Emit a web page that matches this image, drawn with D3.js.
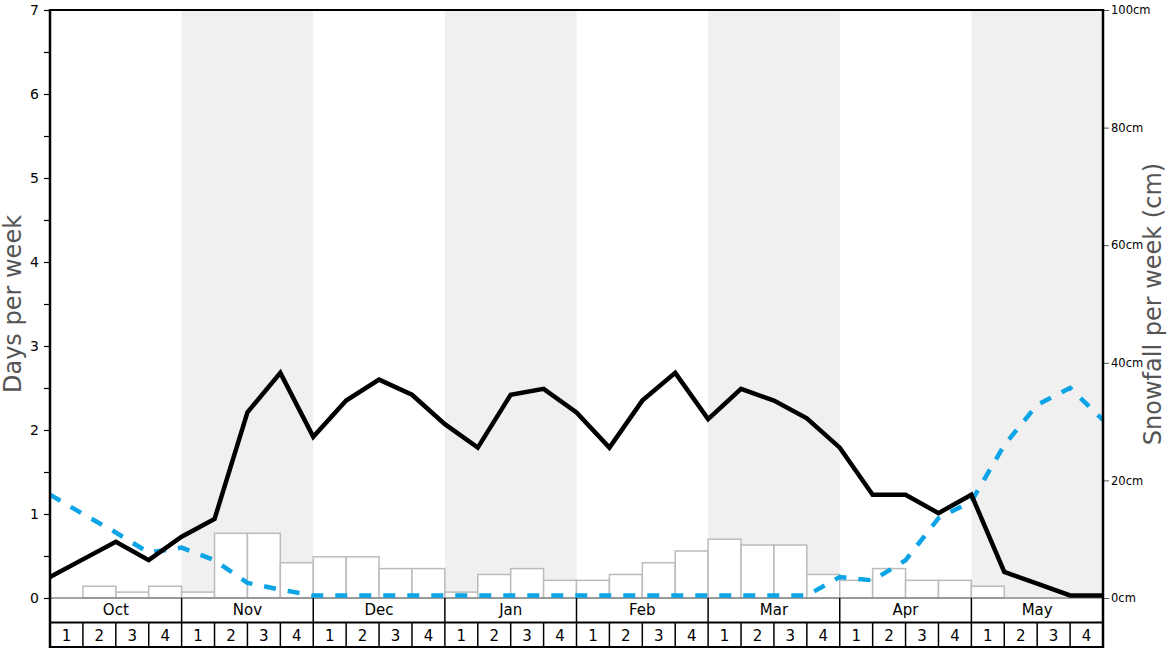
<!DOCTYPE html>
<html>
<head>
<meta charset="utf-8">
<script src="https://cdn.jsdelivr.net/npm/d3@7"></script>
<style>
  body { margin: 0; background: #fff; }
  svg { display: block; font-family: 'DejaVu Sans', sans-serif; }
</style>
</head>
<body>
<div id="chart"></div>
<script>
const months = ['Oct', 'Nov', 'Dec', 'Jan', 'Feb', 'Mar', 'Apr', 'May']
const weekLabels = ['1', '2', '3', '4']

// snowfall per week in cm, one per week (32 weeks)
const snowfallCm = [
  0, 2, 1, 2,
  1, 11, 11, 6,
  7, 7, 5, 5,
  1, 4, 5, 3,
  3, 4, 6, 8,
  10, 9, 9, 4,
  3, 5, 3, 3,
  2, 0, 0, 0
]

// days per week, sampled at week boundaries (33 points)
const snowDays = [
  0.25, 0.46, 0.67, 0.45,
  0.73, 0.94, 2.21, 2.68,
  1.92, 2.35, 2.6, 2.42,
  2.07, 1.79, 2.42, 2.49,
  2.21, 1.79, 2.35, 2.68,
  2.13, 2.49, 2.35, 2.14,
  1.79, 1.23, 1.23, 1.01,
  1.23, 0.31, 0.17, 0.03,
  0.03
]

const blueDays = [
  1.23, 1.0, 0.78, 0.54,
  0.6, 0.45, 0.18, 0.1,
  0.03, 0.03, 0.03, 0.03,
  0.03, 0.03, 0.03, 0.03,
  0.03, 0.03, 0.03, 0.03,
  0.03, 0.03, 0.03, 0.03,
  0.25, 0.21, 0.45, 0.95,
  1.15, 1.82, 2.3, 2.5,
  2.12
]

const W = 1168
const H = 648
const plotLeft = 50
const plotRight = 1103
const plotTop = 10
const base = 598

const svg = d3.select('#chart')
  .append('svg')
  .attr('width', W)
  .attr('height', H)

const x = d3.scaleLinear().domain([0, 32]).range([plotLeft, plotRight])
const yDays = d3.scaleLinear().domain([0, 7]).range([base, plotTop])
const yCm = d3.scaleLinear().domain([0, 100]).range([base, plotTop])

// shaded month bands (every other month)
svg.append('g')
  .selectAll('rect')
  .data(d3.range(1, months.length, 2))
  .enter()
  .append('rect')
  .attr('x', d => x(d * 4))
  .attr('y', plotTop)
  .attr('width', d => x(d * 4 + 4) - x(d * 4))
  .attr('height', base - plotTop)
  .attr('fill', '#f0f0f0')

// snowfall bars
svg.append('g')
  .selectAll('rect')
  .data(snowfallCm.map((v, i) => ({ v, i })).filter(d => d.v > 0))
  .enter()
  .append('rect')
  .attr('x', d => x(d.i))
  .attr('y', d => yCm(d.v))
  .attr('width', d => x(d.i + 1) - x(d.i))
  .attr('height', d => base - yCm(d.v))
  .attr('fill', '#fff')
  .attr('stroke', '#bbb')
  .attr('stroke-width', 1.5)

// baseline
svg.append('line')
  .attr('x1', plotLeft).attr('x2', plotRight)
  .attr('y1', base).attr('y2', base)
  .attr('stroke', '#888')
  .attr('stroke-width', 1.5)

// lines
const line = d3.line()
  .x((d, i) => x(i))
  .y(d => yDays(d))

svg.append('path')
  .datum(blueDays)
  .attr('d', line)
  .attr('fill', 'none')
  .attr('stroke', '#0ba4e6')
  .attr('stroke-width', 4.5)
  .attr('stroke-dasharray', '12,12')

svg.append('path')
  .datum(snowDays)
  .attr('d', line)
  .attr('fill', 'none')
  .attr('stroke', '#000')
  .attr('stroke-width', 4.5)

// top frame
svg.append('line')
  .attr('x1', plotLeft).attr('x2', plotRight)
  .attr('y1', plotTop).attr('y2', plotTop)
  .attr('stroke', '#000').attr('stroke-width', 2)

// month row and week row
const table = svg.append('g')
  .attr('fill', 'none')
  .attr('stroke', '#000')

table.append('line')
  .attr('x1', plotLeft).attr('x2', plotRight)
  .attr('y1', 622.5).attr('y2', 622.5)
  .attr('stroke-width', 2)
table.append('line')
  .attr('x1', plotLeft).attr('x2', plotRight)
  .attr('y1', 647).attr('y2', 647)
  .attr('stroke-width', 2)

table.selectAll('.mline')
  .data(d3.range(1, months.length))
  .enter()
  .append('line')
  .attr('x1', d => x(d * 4)).attr('x2', d => x(d * 4))
  .attr('y1', base).attr('y2', H)
  .attr('stroke-width', 1.5)

table.selectAll('.wline')
  .data(d3.range(1, 32).filter(d => d % 4 !== 0))
  .enter()
  .append('line')
  .attr('x1', d => x(d)).attr('x2', d => x(d))
  .attr('y1', 622).attr('y2', H)
  .attr('stroke-width', 1.5)

svg.append('g')
  .selectAll('text')
  .data(months)
  .enter()
  .append('text')
  .attr('x', (d, i) => (x(i * 4) + x(i * 4 + 4)) / 2)
  .attr('y', 615)
  .attr('text-anchor', 'middle')
  .attr('font-size', 15)
  .attr('fill', '#000')
  .text(d => d)

svg.append('g')
  .selectAll('text')
  .data(d3.range(32))
  .enter()
  .append('text')
  .attr('x', d => (x(d) + x(d + 1)) / 2)
  .attr('y', 641)
  .attr('text-anchor', 'middle')
  .attr('font-size', 15)
  .attr('fill', '#000')
  .text(d => weekLabels[d % 4])

// left axis
const leftAxis = svg.append('g')
  .attr('transform', `translate(${plotLeft},0)`)
  .call(d3.axisLeft(yDays)
    .tickValues(d3.range(0, 7.01, 0.5))
    .tickSize(6)
    .tickFormat(d => Number.isInteger(d) ? d : ''))
leftAxis.select('.domain').remove()
leftAxis.selectAll('text').attr('font-size', 14).attr('font-family', 'DejaVu Sans').attr('dx', '-2')
leftAxis.selectAll('line').attr('stroke-width', 1.2)
svg.append('line')
  .attr('x1', plotLeft).attr('x2', plotLeft)
  .attr('y1', plotTop - 1).attr('y2', H)
  .attr('stroke', '#000').attr('stroke-width', 2.5)

// right axis
const rightAxis = svg.append('g')
  .attr('transform', `translate(${plotRight},0)`)
  .call(d3.axisRight(yCm)
    .tickValues(d3.range(0, 101, 20))
    .tickSize(6)
    .tickFormat(d => d + 'cm'))
rightAxis.select('.domain').remove()
rightAxis.selectAll('text').attr('font-size', 11.5).attr('font-family', 'DejaVu Sans').attr('dx', '-1')
rightAxis.selectAll('line').attr('stroke', '#555')
svg.append('line')
  .attr('x1', plotRight).attr('x2', plotRight)
  .attr('y1', plotTop - 1).attr('y2', H)
  .attr('stroke', '#000').attr('stroke-width', 2.5)

// axis titles
svg.append('text')
  .attr('transform', `translate(21,${(plotTop + base) / 2}) rotate(-90)`)
  .attr('text-anchor', 'middle')
  .attr('font-size', 24)
  .attr('fill', '#555')
  .text('Days per week')

svg.append('text')
  .attr('transform', `translate(1161,${(plotTop + base) / 2}) rotate(-90)`)
  .attr('text-anchor', 'middle')
  .attr('font-size', 24)
  .attr('fill', '#555')
  .text('Snowfall per week (cm)')
</script>
</body>
</html>
